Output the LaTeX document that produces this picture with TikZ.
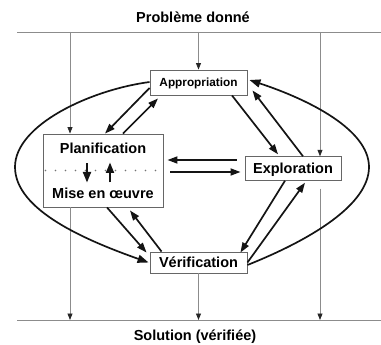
\documentclass[tikz,border=0pt]{standalone}
\usepackage{fontspec}
\setmainfont{Liberation Sans}
\usetikzlibrary{arrows.meta,calc}
\begin{document}
\begin{tikzpicture}[x=1pt,y=-1pt,
  big/.style={font=\bfseries\fontsize{14.5}{17}\selectfont},
  lbl/.style={big, inner sep=0pt, text height=10.4pt, text depth=0pt},
  gline/.style={draw=black!45, line width=0.8pt},
  garr/.style={gline, -{Triangle[length=6.5pt,width=5pt,color=black!85]}},
  barr/.style={draw=black!92, line width=1.7pt, -{Triangle[length=10pt,width=7pt]}},
  bcurve/.style={draw=black!92, line width=1.7pt, -{Triangle[length=11pt,width=8pt]}},
  iarr/.style={draw=black!92, line width=1.8pt, -{Triangle[length=10.5pt,width=8pt]}},
  boxn/.style={draw=black!60, line width=0.9pt, fill=white, inner sep=0pt, big, text height=10.4pt, text depth=0pt},
  dotl/.style={draw=black!55, line width=1.7pt, line cap=round, dash pattern=on 0pt off 10pt}
]
\useasboundingbox (0,0) rectangle (381,345);
% titles
\node[big, anchor=base, inner sep=0pt] (top) at (193,23) {Problème donné};
\node[big, anchor=base, inner sep=0pt] (bot) at (195,340) {Solution (vérifiée)};
% frame lines
\coordinate (tl) at (17,32); \coordinate (tr) at (381,32);
\coordinate (bl) at (17,320); \coordinate (br) at (381,320);
\coordinate (lx) at (70,32); \coordinate (rx) at (320,32);
\draw[gline] (tl) -- (tr);
\draw[gline] (bl) -- (br);
% boxes
\node[boxn, font=\bfseries\fontsize{11.8}{14}\selectfont, text height=8.5pt, minimum width=97pt, minimum height=25pt] (appr) at (198.5,82.5) {Appropriation};
\node[boxn, minimum width=120pt, minimum height=73pt] (plan) at (103,170.5) {};
\node[boxn, minimum width=96pt, minimum height=23.5pt] (expl) at (293,168.5) {Exploration};
\node[boxn, minimum width=97pt, minimum height=21pt] (veri) at (198.5,262.5) {Vérification};
% inside planification
\draw[dotl] ($(plan.west)+(3,0)$) -- ($(plan.east)+(-6,0)$);
\node[lbl] (ptxt) at ($(plan.center)+(0,-22.5)$) {Planification};
\node[lbl] (mtxt) at ($(plan.center)+(0,22.5)$) {Mise en œuvre};
\draw[iarr] ($(plan.center)+(-16,-7)$) -- ($(plan.center)+(-16,12)$);
\draw[iarr] ($(plan.center)+(7,12)$) -- ($(plan.center)+(7,-8)$);
% gray arrows
\draw[garr] (appr.north |- tl) -- (appr.north);
\draw[garr] (lx) -- (lx |- plan.north);
\draw[garr] (lx |- plan.south) -- (lx |- bl);
\draw[garr] (rx) -- (rx |- expl.north);
\draw[garr] ($(rx |- expl.south)+(0,8)$) -- (rx |- bl);
\draw[garr] (veri.south) -- (veri.south |- bl);
% black arrows
\draw[barr] ($(appr.west)+(0,5.5)$) -- ($(plan.north)+(2,0)$);
\draw[barr] ($(plan.north)+(20,0)$) -- ($(appr.south)+(-40.5,3)$);
\draw[barr] ($(appr.south)+(33.5,0)$) -- ($(expl.north)+(-15,-2)$);
\draw[barr] ($(expl.north)+(10,0)$) -- ($(appr.south east)+(5,-5)$);
\draw[barr] ($(plan.south)+(4,0)$) -- ($(veri.north west)+(-3,1)$);
\draw[barr] ($(veri.north west)+(12,0)$) -- ($(plan.south)+(27,3)$);
\draw[barr] ($(expl.south)+(-8,0)$) -- ($(veri.north east)+(-7,1)$);
\draw[barr] (veri.east) -- ($(expl.south)+(12,2)$);
\draw[barr] ($(expl.west)+(-8,-8.5)$) -- ($(plan.east)+(4,-10.5)$);
\draw[barr] ($(plan.east)+(7,1.5)$) -- ($(expl.west)+(-4,3.5)$);
% big curves
\draw[bcurve] ($(appr.west)+(0,-0.5)$) .. controls (90,90) and (15,125) .. (15,167)
   .. controls (15,210) and (85,240) .. ($(veri.west)+(-1,0)$);
\draw[bcurve] ($(veri.east)+(0,2.5)$) .. controls (310,240) and (369,205) .. (369,167)
   .. controls (369,130) and (310,100) .. ($(appr.east)+(2,-2.5)$);
\end{tikzpicture}
\end{document}
